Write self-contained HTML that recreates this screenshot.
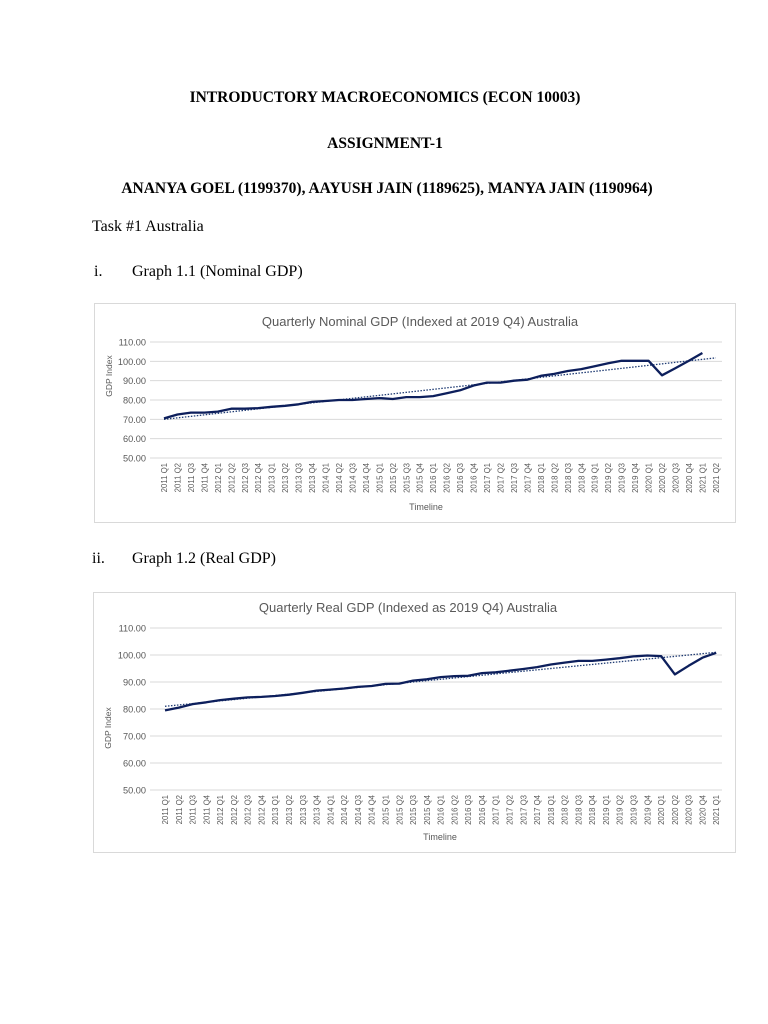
<!DOCTYPE html>
<html><head><meta charset="utf-8">
<style>
html,body{margin:0;padding:0;background:#fff;}
svg{display:block;}
</style></head>
<body>
<svg id="s" width="768" height="1024" xmlns="http://www.w3.org/2000/svg">
<g font-family="'Liberation Serif',serif" font-size="16" fill="#000">
<text x="385" y="102" text-anchor="middle" font-weight="bold" font-size="15.5">INTRODUCTORY MACROECONOMICS (ECON 10003)</text>
<text x="385" y="148" text-anchor="middle" font-weight="bold" font-size="15.5">ASSIGNMENT-1</text>
<text x="387" y="193" text-anchor="middle" font-weight="bold" font-size="15.5">ANANYA GOEL (1199370), AAYUSH JAIN (1189625), MANYA JAIN (1190964)</text>
<text x="92" y="231">Task #1 Australia</text>
<text x="94" y="276">i.</text><text x="132" y="276">Graph 1.1 (Nominal GDP)</text>
<text x="92" y="563">ii.</text><text x="132" y="563">Graph 1.2 (Real GDP)</text>
</g>
<rect x="94.5" y="303.5" width="641" height="219" fill="#fff" stroke="#d9d9d9"/>
<rect x="93.5" y="592.5" width="642" height="260" fill="#fff" stroke="#d9d9d9"/>
<g id="c"></g>
</svg>
<script>
var NS="http://www.w3.org/2000/svg",g=document.getElementById("c");
function el(t,a,txt){var e=document.createElementNS(NS,t);for(var k in a)e.setAttribute(k,a[k]);if(txt!=null)e.textContent=txt;g.appendChild(e);return e;}
function labels(n){var r=[];for(var i=0;i<n;i++){var y=2011+Math.floor(i/4);r.push(y+" Q"+(i%4+1));}return r;}
function chart(o){
  var yv=function(v){return o.y50-(v-50)*(o.y50-o.y110)/60;};
  for(var v=50;v<=110;v+=10){var y=yv(v);
    el("line",{x1:o.gx0,x2:o.gx1,y1:y,y2:y,stroke:"#d9d9d9","stroke-width":1});
    el("text",{x:o.ylx,y:y+3.5,"text-anchor":"end","font-size":"9.2","font-family":"'Liberation Sans',sans-serif",fill:"#595959"},v.toFixed(2));}
  var L=labels(o.n);
  for(var i=0;i<o.n;i++){var x=o.x0+i*o.dx;
    el("text",{x:0,y:0,transform:"translate("+(x+3)+","+(o.y50+5)+") rotate(-90)","text-anchor":"end","font-size":"7.8","font-family":"'Liberation Sans',sans-serif",fill:"#595959"},L[i]);}
  var pts=o.d.map(function(v,i){return (o.x0+i*o.dx).toFixed(1)+","+yv(v).toFixed(1);}).join(" ");
  el("line",{x1:o.x0,y1:yv(o.t0),x2:o.x0+(o.tn-1)*o.dx,y2:yv(o.t1),stroke:"#1f3b73","stroke-width":1.3,"stroke-dasharray":"1.5,1.5"});
  el("polyline",{points:pts,fill:"none",stroke:"#0d1f5c","stroke-width":2.3,"stroke-linejoin":"round"});
  el("text",{x:o.tx,y:o.ty,"text-anchor":"middle","font-size":"13","font-family":"'Liberation Sans',sans-serif",fill:"#595959"},o.title);
  el("text",{x:0,y:0,transform:"translate("+o.ax+","+o.ay+") rotate(-90)","text-anchor":"middle","font-size":"8.5","font-family":"'Liberation Sans',sans-serif",fill:"#595959"},"GDP Index");
  el("text",{x:o.lx,y:o.ly,"text-anchor":"middle","font-size":"9","font-family":"'Liberation Sans',sans-serif",fill:"#595959"},o.xl);
}
chart({n:42,x0:164,dx:13.46,y110:342,y50:458,gx0:150,gx1:722,ylx:146,
 d:[70.5,72.5,73.5,73.5,74,75.5,75.5,75.8,76.5,77,77.8,79,79.5,80,80,80.5,81,80.5,81.5,81.5,82,83.5,85,87.5,89,89,90,90.5,92.5,93.5,95,96,97.5,99,100.3,100.3,100.3,92.8,96.5,100.3,104.3],
 t0:70,t1:101.8,tn:42,title:"Quarterly Nominal GDP (Indexed at 2019 Q4) Australia",tx:420,ty:326,ax:112,ay:376,xl:"Timeline",lx:426,ly:510});
chart({n:41,x0:165,dx:13.78,y110:628,y50:790,gx0:150,gx1:722,ylx:146,
 d:[79.5,80.5,81.8,82.5,83.3,83.8,84.3,84.5,84.8,85.3,86,86.8,87.2,87.6,88.2,88.5,89.3,89.4,90.5,91,91.8,92.2,92.3,93.3,93.6,94.2,94.8,95.5,96.5,97.2,97.8,97.8,98.3,98.8,99.5,99.8,99.6,92.8,96,99,100.8],
 t0:81,t1:101,tn:41,title:"Quarterly Real GDP (Indexed as 2019 Q4) Australia",tx:408,ty:612,ax:111,ay:728,xl:"Timeline",lx:440,ly:840});
</script>
</body></html>
